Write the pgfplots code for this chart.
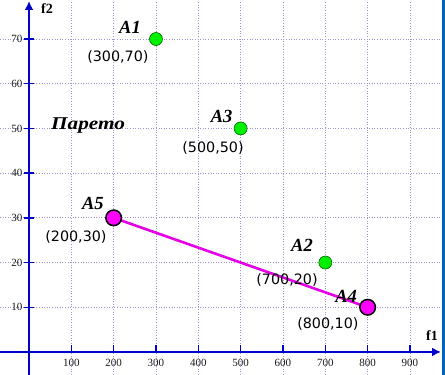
\documentclass[border=0pt]{standalone}
\usepackage{fontspec}
\setmainfont{Liberation Serif}
\newfontfamily\coordfont{DejaVu Sans}
\usepackage{pgfplots}
\pgfplotsset{compat=1.18}
\usetikzlibrary{arrows.meta}
\definecolor{axblue}{RGB}{0,0,205}
\definecolor{gridc}{RGB}{160,150,205}
\definecolor{ptgreen}{RGB}{0,240,0}
\definecolor{ptmag}{RGB}{255,0,255}
\definecolor{linemag}{RGB}{230,0,230}
\definecolor{barblue}{RGB}{0,100,190}
\begin{document}
\begin{tikzpicture}
\useasboundingbox (0,0) rectangle (445pt,375pt);
\fill[white] (0,0) rectangle (445pt,375pt);
\begin{axis}[
  at={(0pt,0pt)}, anchor=south west,
  scale only axis, width=441pt, height=374pt,
  xmin=-68.5, xmax=973.3, ymin=-5.15, ymax=78.5,
  axis lines=middle,
  axis line style={axblue, line width=1.8pt, -{Latex[length=9pt,width=9pt]}},
  xtick={100,200,...,900}, ytick={10,20,...,70},
  major tick length=0pt,
  grid=major,
  major grid style={gridc, line width=0.9pt, dash pattern=on 1pt off 1.6pt},
  /pgf/number format/assume math mode=true,
  tick label style={font=\fontsize{11}{12}\selectfont, text=black!90},
  xticklabel style={yshift=-4pt},
  yticklabel style={xshift=-3pt},
  clip=false,
]
\pgfplotsinvokeforeach{100,200,...,900}{
  \draw[axblue, line width=1.5pt] ([yshift=-0.5pt]axis cs:#1,0) -- ([yshift=7pt]axis cs:#1,0);
}
\pgfplotsinvokeforeach{10,20,...,70}{
  \draw[axblue, line width=1.5pt] ([xshift=-5pt]axis cs:0,#1) -- ([xshift=5pt]axis cs:0,#1);
}
\addplot[linemag, line width=2.6pt] coordinates {(200,30) (800,10)};
\addplot[only marks, mark=*, mark size=6.5pt, mark options={fill=ptgreen, draw=black!60!green, line width=0.6pt}]
  coordinates {(300,70) (700,20) (500,50)};
\addplot[only marks, mark=*, mark size=7.8pt, mark options={fill=ptmag, draw=black, line width=1.5pt}]
  coordinates {(800,10) (200,30)};
\tikzset{ptlab/.style={font=\fontsize{18.5}{20}\selectfont\bfseries\itshape},
         crd/.style={font=\coordfont\fontsize{14.3}{16}\selectfont}}
\node[ptlab] at (axis cs:238.6,72.5) {A1};
\node[crd] at (axis cs:210,66.0) {(300,70)};
\node[ptlab] at (axis cs:455,52.7) {A3};
\node[crd] at (axis cs:434.7,45.6) {(500,50)};
\node[ptlab] at (axis cs:151,33.1) {A5};
\node[crd] at (axis cs:111,25.7) {(200,30)};
\node[ptlab] at (axis cs:645,23.9) {A2};
\node[crd] at (axis cs:609.5,16.1) {(700,20)};
\node[ptlab] at (axis cs:749,12.5) {A4};
\node[crd] at (axis cs:706,6.26) {(800,10)};
\node[font=\fontsize{18}{20}\selectfont\bfseries\itshape] at (axis cs:139.4,50.6) {\scalebox{1.18}[1]{Парето}};
\node[font=\fontsize{14}{16}\selectfont\bfseries] at (axis cs:952,3.6) {f1};
\node[font=\fontsize{14}{16}\selectfont\bfseries] at (axis cs:42.5,76.7) {f2};
\end{axis}
\fill[barblue] (442pt,0) rectangle (445pt,375pt);
\end{tikzpicture}
\end{document}
